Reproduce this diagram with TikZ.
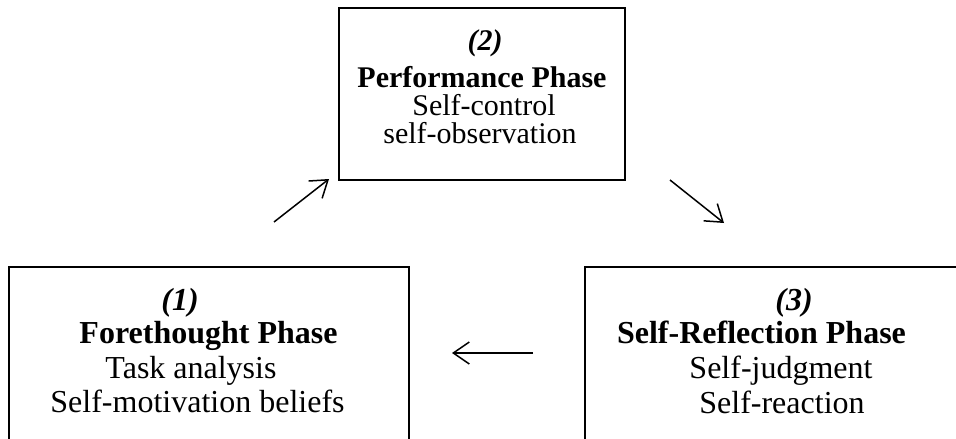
\documentclass[tikz,border=0pt]{standalone}
\usepackage{fontspec}
\setmainfont{Liberation Serif}
\usetikzlibrary{arrows.meta}
\begin{document}
\begin{tikzpicture}[x=1pt,y=-1pt,
  phasebox/.style={draw=black, line width=1.3pt, rectangle, inner sep=0pt},
  toptext/.style={anchor=base, inner sep=0pt, font=\fontsize{30}{30}\selectfont},
  bottext/.style={anchor=base, inner sep=0pt, font=\fontsize{32}{34}\selectfont},
  flow/.style={line width=1.5pt, -{Straight Barb[length=16pt,width=22pt,line width=1.5pt]}}]
\useasboundingbox (0,0) rectangle (956,439);
\fill[white] (0,0) rectangle (956,439);
\begin{scope}
\clip (0,0) rectangle (956,439);
% boxes
\node[phasebox, minimum width=286pt, minimum height=172pt] (perf) at (482,94) {};
\node[phasebox, minimum width=400pt, minimum height=240pt] (fore) at (209,387) {};
\node[phasebox, minimum width=420pt, minimum height=240pt] (refl) at (795,387) {};
\end{scope}
% top box text
\node[toptext] (p1) at (485,50) {\textbf{\textit{(2)}}};
\node[toptext] (p2) at (482,87) {\textbf{Performance Phase}};
\node[toptext] (p3) at (484,115) {Self-control};
\node[toptext] (p4) at (480,143) {self-observation};
% left box text
\node[bottext] (f1) at (180,310) {\textbf{\textit{(1)}}};
\node[bottext] (f2) at (208.5,343) {\textbf{Forethought Phase}};
\node[bottext] (f3) at (191,378) {Task analysis};
\node[bottext] (f4) at (197.5,412) {Self-motivation beliefs};
% right box text
\node[bottext] (r1) at (794,310) {\textbf{\textit{(3)}}};
\node[bottext] (r2) at (761.5,343) {\textbf{Self-Reflection Phase}};
\node[bottext] (r3) at (781,378) {Self-judgment};
\node[bottext] (r4) at (782,413) {Self-reaction};
% arrows
\coordinate (a1s) at (274,222);
\coordinate (a1e) at (329,179);
\coordinate (a2s) at (670,180);
\coordinate (a2e) at (724,223);
\coordinate (a3s) at (533,353);
\coordinate (a3e) at (452,353);
\draw[flow] (a1s) -- (a1e);
\draw[flow] (a2s) -- (a2e);
\draw[flow] (a3s) -- (a3e);
\end{tikzpicture}
\end{document}
